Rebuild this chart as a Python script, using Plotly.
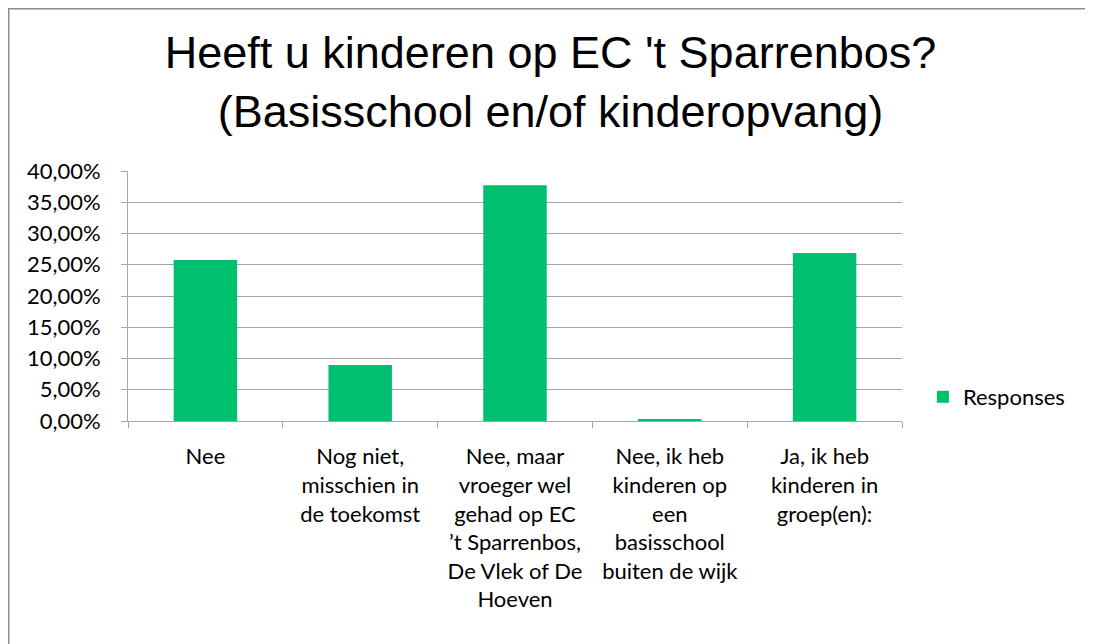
import plotly.graph_objects as go

# survey answers (x axis categories, wrapped like the original labels)
categories = [
    "Nee",
    "Nog niet,<br>misschien in<br>de toekomst",
    "Nee, maar<br>vroeger wel<br>gehad op EC<br>’t Sparrenbos,<br>De Vlek of De<br>Hoeven",
    "Nee, ik heb<br>kinderen op<br>een<br>basisschool<br>buiten de wijk",
    "Ja, ik heb<br>kinderen in<br>groep(en):",
]
responses = [0.2576, 0.0896, 0.3774, 0.0031, 0.2689]

series_name = "Responses"
title_text = "Heeft u kinderen op EC 't Sparrenbos?<br>(Basisschool en/of kinderopvang)"

GREEN = "#00BF6F"
GRID = "#a6a6a6"

# page body has an 8px margin, so the figure is a bit smaller than the window
W, H = 1085, 636
L, T, R, B = 120, 163, 191, 223
pw, ph = W - L - R, H - T - B

fig = go.Figure()
fig.add_trace(go.Bar(
    x=categories,
    y=responses,
    name=series_name,
    marker=dict(color=GREEN, line=dict(width=0)),
    showlegend=True,
))

fig.update_layout(
    width=W,
    height=H,
    margin=dict(l=L, r=R, t=T, b=B),
    paper_bgcolor="white",
    plot_bgcolor="white",
    separators=",.",
    bargap=0.59,
    font=dict(family="Lato, Open Sans, sans-serif", size=22, color="black"),
    title=dict(
        text=title_text,
        x=0.5, xanchor="center",
        y=0.905, yanchor="top", yref="container",
        font=dict(family="Liberation Sans, Arial, sans-serif", size=45, color="black"),
    ),
    legend=dict(
        x=1.027, xanchor="left",
        y=0.096, yanchor="middle",
        font=dict(family="Lato, Open Sans, sans-serif", size=22, color="black"),
        bgcolor="rgba(0,0,0,0)",
    ),
    # outer chart border (only left and top edges show in the reference)
    shapes=[dict(
        type="rect", xref="paper", yref="paper",
        x0=(0.7 - L) / pw, x1=(W + 20 - L) / pw,
        y0=(ph - H - 20) / ph, y1=(ph + T - 0.7) / ph,
        line=dict(color="#8c8c8c", width=1.5),
        layer="below",
    )],
)

fig.update_xaxes(
    showline=True, linecolor=GRID, linewidth=1,
    ticks="outside", tickson="boundaries", ticklen=6, tickcolor=GRID,
    showgrid=False,
    tickangle=0,
    ticklabelstandoff=16,
)
fig.update_yaxes(
    range=[0, 0.4], dtick=0.05, tickformat=".2%",
    showline=True, linecolor=GRID, linewidth=1,
    ticks="outside", ticklen=6, tickcolor=GRID,
    showgrid=True, gridcolor=GRID, gridwidth=1,
    zeroline=False,
    ticklabelstandoff=16,
)

fig.write_html("out.html")
